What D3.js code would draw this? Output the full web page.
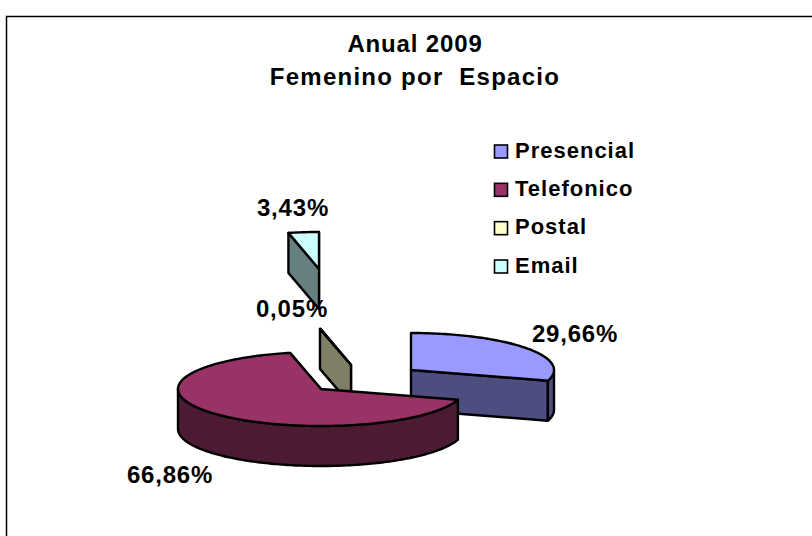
<!DOCTYPE html>
<html>
<head>
<meta charset="utf-8">
<script src="https://cdn.jsdelivr.net/npm/d3@7"></script>
<style>
  html, body { margin: 0; background: #fff; }
  text { font-family: "Liberation Sans", Arial, sans-serif; font-weight: bold; fill: #000; }
</style>
</head>
<body>
<div id="chart"></div>
<script>
// chart values
var categories = ["Presencial", "Telefonico", "Postal", "Email"]
var values = [29.66, 66.86, 0.05, 3.43]
var valueLabels = ["29,66%", "66,86%", "0,05%", "3,43%"]
var titleLines = ["Anual 2009", "Femenino por  Espacio"]

var topColors = ["#9999ff", "#993366", "#ffffcc", "#ccffff"]
var wallColors = ["#4d4d80", "#4d1a33", "#7f7f66", "#667f7f"]

var width = 812
var height = 536

var cx = 321, cy = 389     // pie centre on screen
var rx = 143, ry = 37      // flattened radii
var depth = 40

// how far each slice is pulled out of the pie, px
var explodeX = [90, 0, 30, -2]
var explodeY = [-19, 0, -24, -120]

var labelX = [575, 170, 292, 293]
var labelY = [342, 483, 317, 216]

var svg = d3.select("#chart").append("svg")
    .attr("width", width)
    .attr("height", height)
    .style("display", "block")

// frame
svg.append("path")
    .attr("d", "M6.5," + height + "V16.5H" + width)
    .attr("fill", "none")
    .attr("stroke", "#000")
    .attr("stroke-width", 1.5)

var titleSpacing = [0.85, 1.25]

svg.selectAll(".title")
    .data(titleLines)
    .enter()
    .append("text")
    .attr("class", "title")
    .attr("x", 415)
    .attr("y", function(d, i) { return 52 + i * 33 })
    .attr("text-anchor", "middle")
    .attr("xml:space", "preserve")
    .style("white-space", "pre")
    .style("font-size", "24px")
    .style("letter-spacing", function(d, i) { return titleSpacing[i] + "px" })
    .text(function(d) { return d })

var slices = d3.pie().sort(null)(values)

// angle is clockwise from 12 o'clock, like d3.pie gives it
function rimPoint(a, x0, y0) {
  return [x0 + rx * Math.sin(a), y0 - ry * Math.cos(a)]
}

function rimPoints(a0, a1, x0, y0) {
  var n = Math.max(2, Math.ceil((a1 - a0) / 0.02))
  return d3.range(n + 1).map(function(i) {
    return rimPoint(a0 + (a1 - a0) * i / n, x0, y0)
  })
}

var line = d3.line()

function drawSlice(i) {
  var s = slices[i]
  var x0 = cx + explodeX[i]
  var y0 = cy + explodeY[i]
  var g = svg.append("g")
      .attr("stroke", "#000")
      .attr("stroke-width", 2.4)
      .attr("stroke-linejoin", "round")

  function wall(points) {
    var lower = points.map(function(p) { return [p[0], p[1] + depth] }).reverse()
    g.append("path")
        .attr("d", line(points.concat(lower)) + "Z")
        .attr("fill", wallColors[i])
  }

  // cut faces that look towards the viewer
  var apex = [x0, y0]
  if (Math.cos(s.endAngle) < 0 || Math.sin(s.endAngle) < 0) {
    wall([rimPoint(s.endAngle, x0, y0), apex])
  }
  if (Math.sin(s.startAngle) < 0) {
    wall([apex, rimPoint(s.startAngle, x0, y0)])
  }

  // outer wall, only the front half of the rim shows
  var a0 = Math.max(s.startAngle, Math.PI / 2)
  var a1 = Math.min(s.endAngle, Math.PI * 1.5)
  if (a1 > a0) wall(rimPoints(a0, a1, x0, y0))

  g.append("path")
      .attr("d", line([apex].concat(rimPoints(s.startAngle, s.endAngle, x0, y0))) + "Z")
      .attr("fill", topColors[i])
}

// back slices first
;[3, 2, 0, 1].forEach(drawSlice)

svg.selectAll(".value-label")
    .data(valueLabels)
    .enter()
    .append("text")
    .attr("class", "value-label")
    .attr("x", function(d, i) { return labelX[i] })
    .attr("y", function(d, i) { return labelY[i] })
    .attr("text-anchor", "middle")
    .style("font-size", "24px")
    .style("letter-spacing", "0.8px")
    .text(function(d) { return d })

// legend
var legendY = d3.scalePoint().domain(categories).range([151.5, 266.5])

var legend = svg.selectAll(".legend")
    .data(categories)
    .enter()
    .append("g")
    .attr("class", "legend")
    .attr("transform", function(d) { return "translate(494," + legendY(d) + ")" })

legend.append("rect")
    .attr("x", 0.5)
    .attr("y", -6.5)
    .attr("width", 13)
    .attr("height", 13)
    .attr("fill", function(d, i) { return topColors[i] })
    .attr("stroke", "#000")
    .attr("stroke-width", 1.6)

legend.append("text")
    .attr("x", 21)
    .attr("y", 6)
    .style("font-size", "22px")
    .style("letter-spacing", "1px")
    .text(function(d) { return d })
</script>
</body>
</html>
